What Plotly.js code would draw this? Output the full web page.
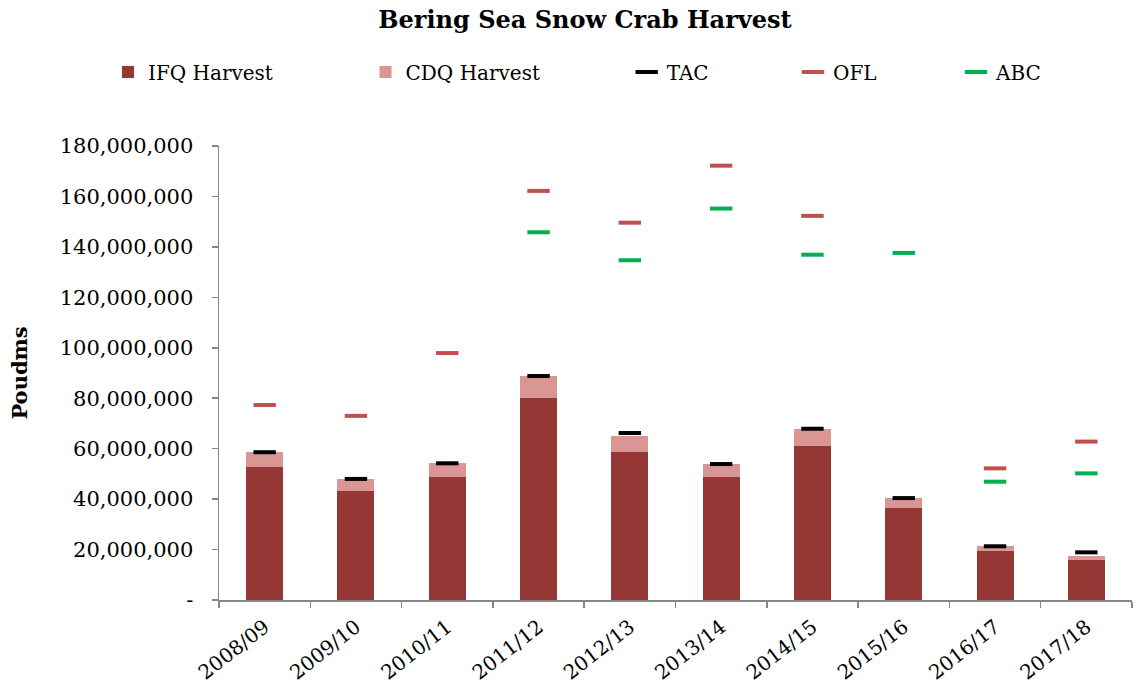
<!DOCTYPE html>
<html>
<head>
<meta charset="utf-8">
<script src="https://cdn.plot.ly/plotly-3.0.1.min.js"></script>
<style>html,body{margin:0;padding:0;background:#fff;}#chart{width:1138px;height:689px;}</style>
</head>
<body>
<div id="chart"></div>
<script>
const seasons = ["2008/09","2009/10","2010/11","2011/12","2012/13","2013/14","2014/15","2015/16","2016/17","2017/18"];
const ifqHarvest = [52700000, 43100000, 48600000, 80100000, 58600000, 48600000, 60900000, 36600000, 19300000, 15700000];
const cdqHarvest = [5900000, 4900000, 5600000, 8700000, 6400000, 5300000, 7000000, 3800000, 2000000, 1700000];
const tac = [58600000, 48000000, 54200000, 88800000, 66200000, 53900000, 67900000, 40400000, 21300000, 18900000];
const ofl = [77300000, 73000000, 97900000, 162200000, 149600000, 172200000, 152300000, null, 52200000, 62800000];
const abc = [null, null, null, 145800000, 134700000, 155200000, 136900000, 137600000, 46900000, 50200000];
const yTickVals = [0, 20000000, 40000000, 60000000, 80000000, 100000000, 120000000, 140000000, 160000000, 180000000];
const yTickText = ["-", "20,000,000", "40,000,000", "60,000,000", "80,000,000", "100,000,000", "120,000,000", "140,000,000", "160,000,000", "180,000,000"];

const FONT = "DejaVu Serif, Liberation Serif, serif";
const dash = (color) => ({symbol: "line-ew", size: 16, color: color, line: {color: color, width: 4}});

const traces = [
  {type: "bar", name: "IFQ Harvest", x: seasons, y: ifqHarvest, marker: {color: "#953735"}, legend: "legend"},
  {type: "bar", name: "CDQ Harvest", x: seasons, y: cdqHarvest, marker: {color: "#D99694"}, legend: "legend2"},
  {type: "scatter", mode: "markers", name: "TAC", x: seasons, y: tac, marker: dash("#000000"), legend: "legend3"},
  {type: "scatter", mode: "markers", name: "OFL", x: seasons, y: ofl, marker: dash("#C0504D"), legend: "legend4"},
  {type: "scatter", mode: "markers", name: "ABC", x: seasons, y: abc, marker: dash("#00B050"), legend: "legend5"}
];

const leg = (x) => ({x: x, y: 1.163, xanchor: "left", yanchor: "middle", orientation: "h",
  font: {family: FONT, size: 20, color: "#000"}, bgcolor: "rgba(0,0,0,0)"});

const layout = {
  width: 1138, height: 689,
  margin: {l: 219, r: 6, t: 146, b: 89},
  paper_bgcolor: "#fff", plot_bgcolor: "#fff",
  font: {family: FONT, color: "#000"},
  title: {text: "<b>Bering Sea Snow Crab Harvest</b>", font: {family: FONT, size: 24, color: "#000"},
          x: 0.514, xanchor: "center", y: 0.971, yanchor: "middle"},
  barmode: "stack", bargap: 0.595,
  showlegend: true,
  legend: leg(-0.1216),
  legend2: leg(0.1605),
  legend3: leg(0.4465),
  legend4: leg(0.6287),
  legend5: leg(0.8072),
  xaxis: {type: "category", range: [-0.5, 9.5], autorange: false, showline: true, linecolor: "#868686", linewidth: 1.5,
          ticks: "outside", tickson: "boundaries", ticklen: 6, tickcolor: "#868686", tickwidth: 1.5,
          tickangle: -38, ticklabelstandoff: 6, tickfont: {family: FONT, size: 20, color: "#000"},
          showgrid: false, zeroline: false},
  yaxis: {range: [0, 180000000], autorange: false, showline: true, linecolor: "#868686", linewidth: 1.5,
          ticks: "outside", ticklen: 6, tickcolor: "#868686", tickwidth: 1.5,
          tickvals: yTickVals, ticktext: yTickText, ticklabelstandoff: 14,
          tickfont: {family: FONT, size: 21, color: "#000"}, showgrid: false, zeroline: false,
          title: {text: "<b>Poudms</b>", font: {family: FONT, size: 21, color: "#000"}, standoff: 26}}
};

Plotly.newPlot("chart", traces, layout, {displayModeBar: false, staticPlot: true});
</script>
</body>
</html>
